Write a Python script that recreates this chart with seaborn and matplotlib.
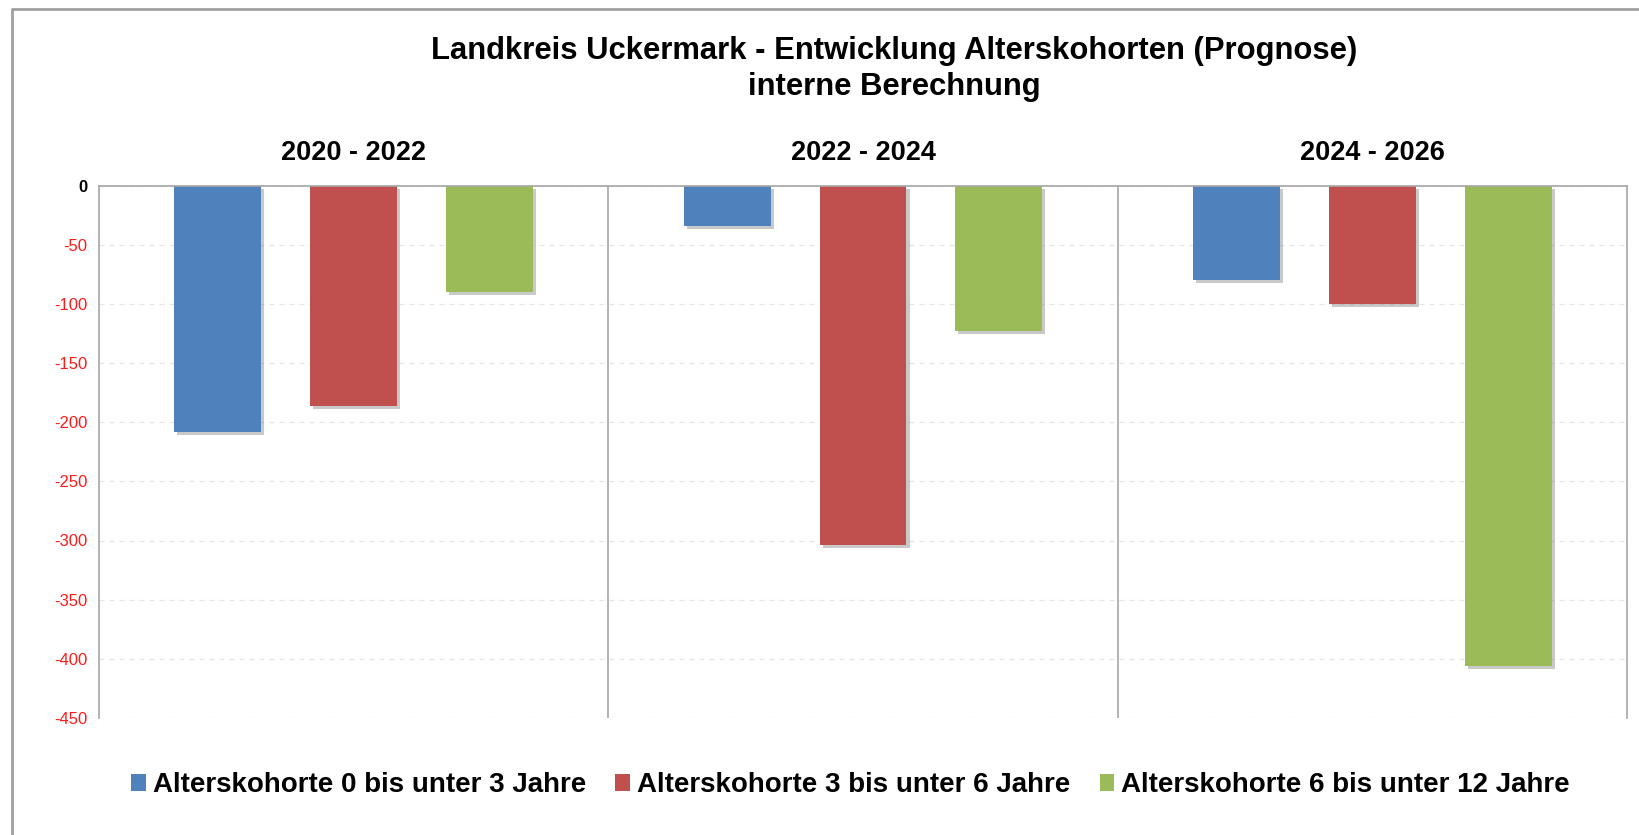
import numpy as np
import pandas as pd
import matplotlib
matplotlib.use("Agg")
import matplotlib.pyplot as plt
import matplotlib.patheffects as pe
from matplotlib.patches import Patch
from matplotlib.lines import Line2D
import seaborn as sns

# --- Data ---
periods = ["2020 - 2022", "2022 - 2024", "2024 - 2026"]
cohorts = [
    "Alterskohorte 0 bis unter 3 Jahre",
    "Alterskohorte 3 bis unter 6 Jahre",
    "Alterskohorte 6 bis unter 12 Jahre",
]
kohorte_0_3 = [-208, -34, -80]
kohorte_3_6 = [-186, -304, -100]
kohorte_6_12 = [-90, -123, -406]
colors = ["#4F81BD", "#C0504D", "#9BBB59"]
y_ticks = list(range(-450, 1, 50))

df = pd.DataFrame({
    "Zeitraum": periods * 3,
    "Kohorte": [c for c in cohorts for _ in periods],
    "Wert": kohorte_0_3 + kohorte_3_6 + kohorte_6_12,
})

sns.set_theme(style="white")
plt.rcParams["font.family"] = ["Liberation Sans", "DejaVu Sans"]
plt.rcParams["text.color"] = "black"

W, H = 1639, 835
fig = plt.figure(figsize=(W / 100, H / 100), dpi=100)
ax = fig.add_axes([99 / W, 1 - 718 / H, (1627 - 99) / W, (718 - 185.5) / H])

sns.barplot(data=df, x="Zeitraum", y="Wert", hue="Kohorte", hue_order=cohorts,
            palette=colors, saturation=1, width=0.8, gap=0.36, ax=ax, legend=False)

# soft drop shadow like the spreadsheet chart
for p in ax.patches:
    p.set_linewidth(0)
    p.set_path_effects([pe.SimplePatchShadow(offset=(2.2, -2.2), shadow_rgbFace="#666666", alpha=0.35),
                        pe.Normal()])

ax.set_xlim(-0.5, 2.5)
ax.set_ylim(-450, 0)
ax.set_yticks(y_ticks)
ax.set_yticklabels([str(t) for t in y_ticks], fontsize=12)
for lbl, t in zip(ax.get_yticklabels(), y_ticks):
    lbl.set_color("black" if t == 0 else "#ff1a1a")
    if t == 0:
        lbl.set_fontweight("bold")
ax.tick_params(axis="y", length=0, pad=8.5)

ax.yaxis.grid(True, linestyle=(0, (4, 4)), color="#e6e6e6", linewidth=0.9)
ax.set_axisbelow(True)

ax.xaxis.tick_top()
ax.tick_params(axis="x", length=0, pad=14)
for lbl in ax.get_xticklabels():
    lbl.set_fontweight("bold")
    lbl.set_fontsize(19.5)
    lbl.set_color("black")

for s in ["left", "right", "top"]:
    ax.spines[s].set_visible(True)
    ax.spines[s].set_color("#a6a6a6")
    ax.spines[s].set_linewidth(1.2)
ax.spines["bottom"].set_visible(False)
for xs in [0.5, 1.5]:
    ax.axvline(xs, color="#a6a6a6", linewidth=1.2)

ax.set_xlabel("")
ax.set_ylabel("")

handles = [Patch(facecolor=c, edgecolor="none") for c in colors]
fig.legend(handles, cohorts, loc="center", bbox_to_anchor=(0.519, 1 - 785 / H), ncol=3, frameon=False,
           prop={"weight": "bold", "size": 20}, handlelength=0.52, handleheight=0.55,
           handletextpad=0.26, columnspacing=1.05)

fig.text(0.5455, 1 - 51.5 / H, "Landkreis Uckermark - Entwicklung Alterskohorten (Prognose)",
         ha="center", va="center", fontsize=22.3, fontweight="bold", color="black")
fig.text(0.5455, 1 - 87.5 / H, "interne Berechnung", ha="center", va="center",
         fontsize=22.3, fontweight="bold", color="black")

# chart-area frame (only left and top edge are visible in the reference)
fig.add_artist(Line2D([12 / W, 12 / W, 1], [0, 1 - 9 / H, 1 - 9 / H], transform=fig.transFigure,
                      color="#a0a0a0", linewidth=2))

fig.savefig("out.png", dpi=100)
